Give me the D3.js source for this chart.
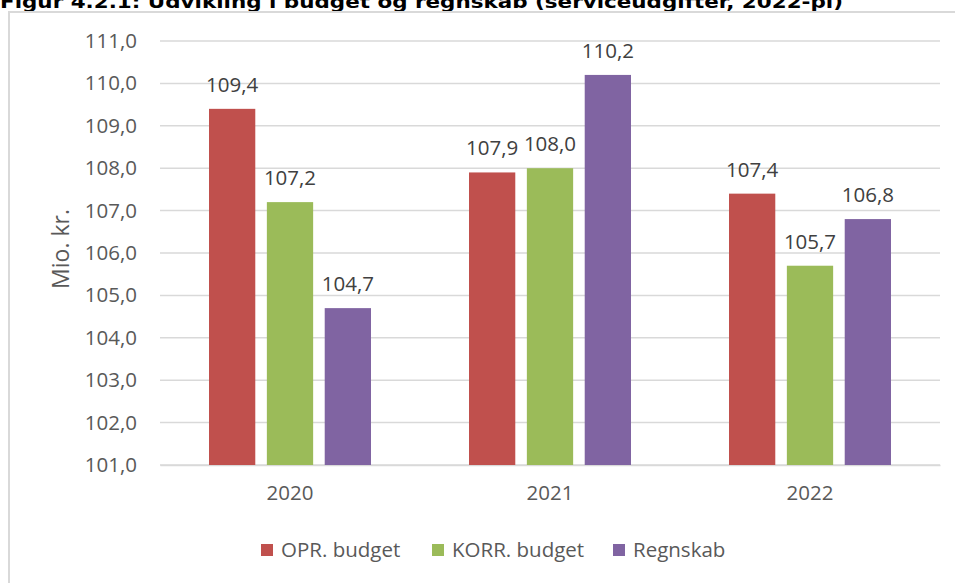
<!DOCTYPE html>
<html><head><meta charset="utf-8">
<script src="https://cdn.jsdelivr.net/npm/d3@7"></script>
<style>body{margin:0;background:#fff;} svg{display:block;}</style>
</head><body>
<svg id="c" width="955" height="583"></svg>
<script>
const categories = ["2020", "2021", "2022"];
const seriesNames = ["OPR. budget", "KORR. budget", "Regnskab"];
const oprBudget = [109.4, 107.9, 107.4];
const korrBudget = [107.2, 108.0, 105.7];
const regnskab = [104.7, 110.2, 106.8];
const yTicks = [101, 102, 103, 104, 105, 106, 107, 108, 109, 110, 111];
const colors = ["#C0504D", "#9BBB59", "#8064A2"];
const title = "Figur 4.2.1: Udvikling i budget og regnskab (serviceudgifter, 2022-pl)";
const yTitle = "Mio. kr.";

const series = [oprBudget, korrBudget, regnskab];
const fmt = v => v.toFixed(1).replace(".", ",");
const font = "'Open Sans', sans-serif";
const fs = 20.5;

const svg = d3.select("#c");
// title (clipped at top, as in the source)
svg.append("text").attr("x", 0).attr("y", 8)
  .attr("font-family", "'DejaVu Sans', Verdana, sans-serif").attr("font-weight", "bold")
  .attr("font-size", 17).attr("fill", "#000")
  .attr("textLength", 843).attr("lengthAdjust", "spacingAndGlyphs")
  .text(title);
// chart border
svg.append("rect").attr("x", 9).attr("y", 12).attr("width", 960).attr("height", 600)
  .attr("fill", "none").attr("stroke", "#d9d9d9").attr("stroke-width", 2);

const x0 = d3.scaleBand().domain(categories).range([160, 940]);
const x1 = d3.scaleBand().domain(d3.range(3)).range([-81, 81]).paddingInner(0.2);
const y = d3.scaleLinear().domain([101, 111]).range([465, 41]);

// gridlines
svg.append("g").selectAll("line").data(yTicks).join("line")
  .attr("x1", 160).attr("x2", 940).attr("y1", d => y(d)).attr("y2", d => y(d))
  .attr("stroke", "#d9d9d9").attr("stroke-width", 1.5);

// y axis
const yAxis = svg.append("g").attr("transform", "translate(160,0)")
  .call(d3.axisLeft(y).tickValues(yTicks).tickFormat(fmt).tickSize(0).tickPadding(23));
yAxis.select(".domain").remove();
yAxis.selectAll("text").attr("font-family", font).attr("font-size", fs).attr("fill", "#595959");

// x axis
const xAxis = svg.append("g").attr("transform", "translate(0,465)")
  .call(d3.axisBottom(x0).tickSize(0).tickPadding(20));
xAxis.select(".domain").attr("stroke", "#d9d9d9").attr("stroke-width", 1.5);
xAxis.selectAll("text").attr("font-family", font).attr("font-size", fs).attr("fill", "#595959");

// bars
categories.forEach((c, ci) => {
  const cx = x0(c) + x0.bandwidth() / 2;
  series.forEach((s, si) => {
    const bx = cx + x1(si);
    svg.append("rect").attr("x", bx).attr("y", y(s[ci]))
      .attr("width", x1.bandwidth()).attr("height", y(101) - y(s[ci]))
      .attr("fill", colors[si]);
    svg.append("text").attr("x", bx + x1.bandwidth() / 2).attr("y", y(s[ci]) - 17)
      .attr("text-anchor", "middle").attr("font-family", font).attr("font-size", fs)
      .attr("fill", "#404040").text(fmt(s[ci]));
  });
});

// y title
svg.append("text").attr("transform", "translate(69,249) rotate(-90)")
  .attr("text-anchor", "middle").attr("font-family", font).attr("font-size", 23)
  .attr("fill", "#595959").text(yTitle);

// legend
const legX = [261, 432, 613];
seriesNames.forEach((n, i) => {
  svg.append("rect").attr("x", legX[i]).attr("y", 544).attr("width", 12).attr("height", 12)
    .attr("fill", colors[i]);
  svg.append("text").attr("x", legX[i] + 20).attr("y", 557)
    .attr("font-family", font).attr("font-size", fs).attr("fill", "#595959").text(n);
});
</script>
</body></html>
